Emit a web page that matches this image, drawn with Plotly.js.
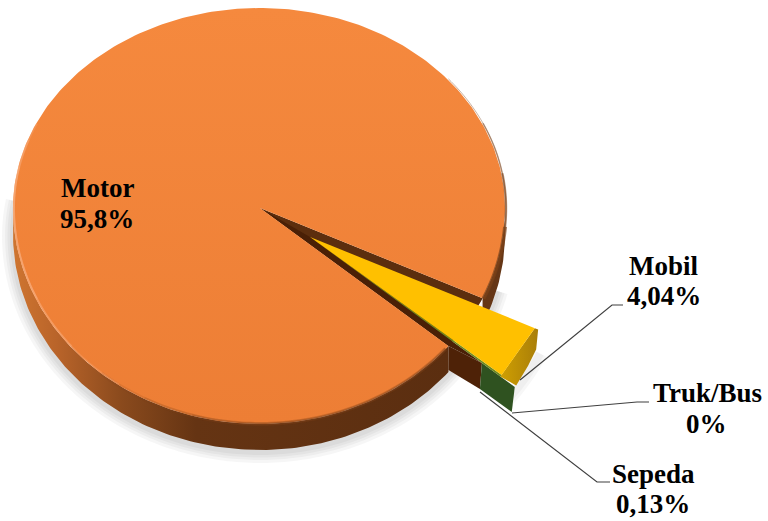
<!DOCTYPE html>
<html>
<head>
<meta charset="utf-8">
<script src="https://cdn.plot.ly/plotly-3.0.1.min.js"></script>
<style>html,body{margin:0;padding:0;background:#fff}#chart{width:768px;height:521px}</style>
</head>
<body>
<div id="chart"></div>
<script>
// Shares of vehicle types, in percent
var categories = ['Motor', 'Mobil', 'Truk/Bus', 'Sepeda'];
var shares = [95.8, 4.04, 0, 0.13];
var shareLabels = ['95,8%', '4,04%', '0%', '0,13%'];

// Disc geometry in plot units (the axes span the page one to one)
var hub = {x: 260, y: 208};
var radius = {left: 247, right: 245, top: 200, bottom: 216};
var depth = 26;
var startAngle = 24.7;             // where the pulled-out group begins, clockwise from +x
var pull = {x: 50, y: 29, k: 1.025};

// Angular span of each slice: clockwise from startAngle, small slices first
var total = shares.reduce(function (a, b) { return a + b; }, 0);
var sweep = shares.map(function (s) { return s / total * 360; });
var mobilEnd = startAngle + sweep[1] + sweep[2];
var sepedaEnd = mobilEnd + sweep[3];
var motorEnd = sepedaEnd + sweep[0];

function rim(deg, k) {
  var t = deg * Math.PI / 180, c = Math.cos(t), s = Math.sin(t);
  k = k || 1;
  return [hub.x + k * (c >= 0 ? radius.right : radius.left) * c,
          hub.y + k * (s >= 0 ? radius.bottom : radius.top) * s];
}
function arc(a, b, k) {
  var n = Math.max(2, Math.ceil(Math.abs(b - a))), pts = [];
  for (var i = 0; i <= n; i++) pts.push(rim(a + (b - a) * i / n, k));
  return pts;
}
function move(pts, dx, dy) { return pts.map(function (p) { return [p[0] + dx, p[1] + dy]; }); }
function pulled(pts) { return move(pts, pull.x, pull.y); }
function lerp(a, b, f) { return [a[0] + (b[0] - a[0]) * f, a[1] + (b[1] - a[1]) * f]; }
// Pulls an arc part of the way toward its chord
function flatten(pts, f) {
  var a = pts[0], b = pts[pts.length - 1], n = pts.length - 1;
  return pts.map(function (p, i) { return lerp(p, lerp(a, b, i / n), f); });
}

function poly(pts, color, gradient) {
  var t = {type: 'scatter', mode: 'lines', x: pts.map(function (p) { return p[0]; }),
           y: pts.map(function (p) { return p[1]; }), fill: 'toself', line: {width: 0},
           fillcolor: color, hoverinfo: 'skip'};
  if (gradient) t.fillgradient = gradient;
  return t;
}
function stroke(pts, color, width, opacity) {
  return {type: 'scatter', mode: 'lines', x: pts.map(function (p) { return p[0]; }),
          y: pts.map(function (p) { return p[1]; }), opacity: opacity,
          line: {color: color, width: width, simplify: false}, hoverinfo: 'skip'};
}

var hubPt = [hub.x, hub.y];
var traces = [];

// Soft shadow beneath the front wall
var lowerEdge = move(arc(startAngle - 10, 190), 0, depth + 2);
[22, 16, 11, 6].forEach(function (w) { traces.push(stroke(lowerEdge, '#000000', w, 0.035)); });
var wedgeLow = pulled(arc(startAngle, mobilEnd, pull.k));
[14, 8].forEach(function (w) { traces.push(stroke(move(wedgeLow, 2, 24), '#000000', w, 0.03)); });

// Outer wall of the large slice
var frontTop = arc(sepedaEnd, 182);
var frontBottom = move(frontTop, 0, depth).reverse();
traces.push(poly(frontTop.concat(frontBottom), '#5f3112', {
  type: 'horizontal',
  colorscale: [[0, '#cf7530'], [0.1, '#b9642a'], [0.25, '#8a4a1d'], [0.42, '#653413'], [1, '#5b2e10']]
}));
var sideTop = arc(-4, startAngle);
traces.push(poly(sideTop.concat(move(sideTop, 0, depth).reverse()), '#653616'));

// Opening left in the disc by the pulled-out group, with its dark inner face
traces.push(poly([hubPt].concat(arc(startAngle, sepedaEnd)), '#5c2e0e'));

// Cut faces along the lower side of the opening
var lowRim = pulled([rim(sepedaEnd, pull.k)])[0];
var lowHub = [hub.x + pull.x, hub.y + pull.y];
var cutA = lerp(lowHub, lowRim, 0.89), cutB = lerp(lowHub, lowRim, 1.06);
var motorCorner = rim(sepedaEnd);
traces.push(poly([hubPt, motorCorner, cutA, lowHub], '#4a2006'));
traces.push(poly([motorCorner, cutA, [cutA[0] - 2, cutA[1] + 26], [motorCorner[0], motorCorner[1] + 24]], '#4e2207'));
traces.push(poly([cutA, cutB, [cutB[0] - 3, cutB[1] + 25], [cutA[0] - 2, cutA[1] + 26]], '#2f5220'));

// Wall of the yellow slice; it fans toward the viewer at its lower end
var yRim = pulled(arc(startAngle, sepedaEnd, pull.k));
var yInner = flatten(pulled(arc(startAngle, sepedaEnd, 1.01)), 0.9);
var yBase = flatten(yRim, 0.6).map(function (p, i, all) {
  var f = i / (all.length - 1);
  return [p[0] - 2 + 15 * f, p[1] + 20 - 13 * f];
});
traces.push(poly(yInner.concat(yBase.slice().reverse(), [yRim[0]]), '#b88a00', {
  type: 'horizontal', colorscale: [[0, '#cf9f02'], [1, '#a97e08']]
}));

// Top faces
traces.push(poly([hubPt].concat(arc(sepedaEnd, motorEnd)), '#f0823a', {
  type: 'vertical', colorscale: [[0, '#ed7e35'], [1, '#f5893e']]
}));
var yFace = flatten(pulled(arc(startAngle, mobilEnd, 1.01)), 0.9);
traces.push(poly([lowHub].concat(pulled(arc(mobilEnd, sepedaEnd, 1.01))), '#6f8a1e'));
traces.push(poly([lowHub].concat(yFace), '#ffc000'));

// Bevel along the rim of the disc, fading out toward both ends
[[sepedaEnd + 1, 130, 4, 0.14], [sepedaEnd + 1, 118, 4, 0.16], [sepedaEnd + 1, 106, 3, 0.22], [sepedaEnd + 1, 95, 2, 0.3]]
  .forEach(function (b) { traces.push(stroke(arc(b[0], b[1]), '#7d421a', b[2], b[3])); });
[[125, 205, 1.5, 0.3], [140, 200, 2, 0.35], [155, 192, 2, 0.35]]
  .forEach(function (b) { traces.push(stroke(arc(b[0], b[1], 0.996), '#fab184', b[2], b[3])); });
[[-40, startAngle, 1, 0.4], [-25, startAngle, 1.5, 0.45], [-10, startAngle, 2.5, 0.5], [5, startAngle, 4, 0.65]]
  .forEach(function (b) { traces.push(stroke(arc(b[0], b[1], 1.004), '#7a4119', b[2], b[3])); });

var fontFamily = '"Liberation Serif", "Times New Roman", serif';
function textAt(text, x, y) {
  return {text: '<b>' + text + '</b>', x: x, y: y, xref: 'x', yref: 'y', showarrow: false,
          xanchor: 'center', yanchor: 'middle',
          font: {family: fontFamily, size: 27, color: '#000000'}};
}
var annotations = [
  textAt(categories[0], 97, 188), textAt(shareLabels[0], 97, 219),
  textAt(categories[1], 664, 266), textAt(shareLabels[1], 664, 296),
  textAt(categories[2], 707, 393), textAt(shareLabels[2], 706, 424),
  textAt(categories[3], 653, 474), textAt(shareLabels[3], 653, 504)
];

// Leader lines from each outer label to its slice
var leaders = ['M520,380 L612,305 L623,305', 'M512,413 L637,402 L649,402', 'M480,392 L597,482 L610,482'];

Plotly.newPlot('chart', traces, {
  width: 768, height: 521, margin: {l: 0, r: 0, t: 0, b: 0},
  paper_bgcolor: '#ffffff', plot_bgcolor: '#ffffff',
  showlegend: false, hovermode: false,
  xaxis: {range: [0, 768], visible: false, fixedrange: true},
  yaxis: {range: [521, 0], visible: false, fixedrange: true},
  annotations: annotations,
  shapes: leaders.map(function (d) {
    return {type: 'path', path: d, xref: 'x', yref: 'y', line: {color: '#3f3f3f', width: 1.2}};
  })
}, {displayModeBar: false, staticPlot: true});
</script>
</body>
</html>
